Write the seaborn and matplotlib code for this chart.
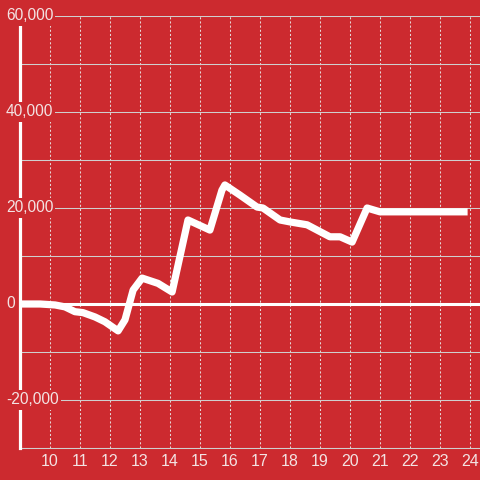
import matplotlib
matplotlib.use("Agg")
import matplotlib.pyplot as plt
import matplotlib.transforms as mtransforms
import seaborn as sns
import pandas as pd

# values
hours = [9.0, 9.67, 10.17, 10.5, 10.83, 11.1, 11.5, 11.83, 12.27, 12.5, 12.77,
         13.07, 13.6, 14.07, 14.6, 15.33, 15.73, 15.83, 16.33, 16.9, 17.1,
         17.67, 18.0, 18.57, 19.33, 19.67, 20.07, 20.57, 21.0, 23.8]
balance = [0, 0, -200, -600, -1600, -1800, -2700, -3700, -5600, -3300, 2900,
           5400, 4300, 2500, 17500, 15400, 23700, 24800, 22700, 20200, 20000,
           17500, 17100, 16500, 14000, 14000, 12900, 20000, 19200, 19200]
x_ticks = list(range(10, 25))
y_grid = list(range(-30000, 60001, 10000))
y_labels = [60000, 40000, 20000, 0, -20000]

bg = "#CC2A2F"
txt = "#F3E3E3"
plt.rcParams['font.family'] = ['Liberation Sans', 'DejaVu Sans']

df = pd.DataFrame({'hour': hours, 'balance': balance})

fig = plt.figure(figsize=(4.8, 4.8), dpi=100, facecolor=bg)
ax = fig.add_axes([20/480, 32/480, 460/480, 432/480])
ax.set_facecolor(bg)

sns.lineplot(data=df, x='hour', y='balance', ax=ax, color='white',
             linewidth=5.2, solid_joinstyle='round', zorder=4)
ax.axhline(0, color='white', linewidth=2.2, zorder=3)

ax.set_xlim(9.0, 9.0 + 460/30)
ax.set_ylim(-30000, 60000)
ax.set_xticks(x_ticks)
ax.set_yticks(y_grid)
ax.set_yticklabels([])
ax.tick_params(axis='both', length=0)
ax.tick_params(axis='x', labelsize=11.5, labelcolor=txt, pad=4)
ax.grid(axis='y', color='#CFCFCF', linewidth=0.75, linestyle='-')
ax.grid(axis='x', color='#E6D6D6', linewidth=0.75, linestyle=(0, (2, 2)))
ax.set_xlabel('')
ax.set_ylabel('')

for s in ['top', 'right']:
    ax.spines[s].set_visible(False)
ax.spines['left'].set_color('white')
ax.spines['left'].set_linewidth(2.3)
ax.spines['left'].set_zorder(2.6)
ax.spines['bottom'].set_color('#CFCFCF')
ax.spines['bottom'].set_linewidth(0.75)

# y labels sit inside the plot over the axis line
trans = mtransforms.offset_copy(ax.get_yaxis_transform(), fig=fig, x=-14, y=0, units='dots')
for v in y_labels:
    ax.text(0, v, f"{v:,}", transform=trans, ha='left', va='center',
            fontsize=11.2, color=txt, zorder=6, clip_on=False,
            bbox=dict(facecolor=bg, edgecolor='none', pad=1.5))

fig.savefig('out.png', dpi=100, facecolor=bg)
